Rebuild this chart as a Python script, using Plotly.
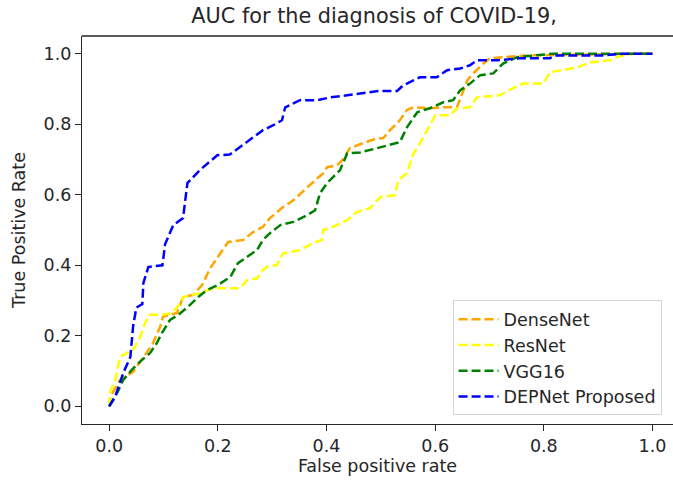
import plotly.graph_objects as go

# ---- data ----
densenet_fpr = [0.0, 0.002, 0.02, 0.044, 0.066, 0.081, 0.094, 0.099, 0.125, 0.136, 0.155, 0.171, 0.186, 0.2, 0.219,
                0.247, 0.265, 0.283, 0.296, 0.32, 0.339, 0.364, 0.383, 0.394, 0.401, 0.42, 0.429, 0.443, 0.467,
                0.493, 0.504, 0.517, 0.535, 0.548, 0.56, 0.59, 0.615, 0.64, 0.659, 0.67, 0.689, 0.701, 0.725,
                0.775, 0.85, 1.0]
densenet_tpr = [0.0, 0.027, 0.075, 0.098, 0.146, 0.18, 0.226, 0.254, 0.265, 0.31, 0.316, 0.344, 0.392, 0.424, 0.466,
                0.472, 0.494, 0.509, 0.534, 0.565, 0.584, 0.62, 0.646, 0.661, 0.678, 0.684, 0.698, 0.732, 0.746,
                0.76, 0.76, 0.783, 0.811, 0.84, 0.848, 0.845, 0.848, 0.848, 0.924, 0.944, 0.972, 0.987, 0.99,
                0.995, 0.997, 1.0]

resnet_fpr = [0.0, 0.002, 0.011, 0.02, 0.033, 0.044, 0.057, 0.066, 0.075, 0.099, 0.116, 0.131, 0.136, 0.153, 0.167,
              0.191, 0.241, 0.254, 0.272, 0.283, 0.29, 0.309, 0.32, 0.351, 0.375, 0.392, 0.394, 0.412, 0.438,
              0.456, 0.48, 0.499, 0.526, 0.532, 0.548, 0.56, 0.572, 0.587, 0.6, 0.627, 0.64, 0.664, 0.677,
              0.719, 0.743, 0.762, 0.799, 0.811, 0.83, 0.861, 0.885, 0.922, 0.935, 0.959, 1.0]
resnet_tpr = [0.0, 0.042, 0.075, 0.14, 0.152, 0.16, 0.197, 0.236, 0.26, 0.26, 0.265, 0.292, 0.31, 0.316, 0.321,
              0.335, 0.335, 0.358, 0.363, 0.386, 0.395, 0.401, 0.434, 0.443, 0.463, 0.472, 0.5, 0.509, 0.528,
              0.551, 0.562, 0.593, 0.599, 0.641, 0.661, 0.717, 0.746, 0.788, 0.825, 0.825, 0.845, 0.848, 0.876,
              0.882, 0.902, 0.915, 0.915, 0.947, 0.953, 0.961, 0.975, 0.981, 0.99, 1.0, 1.0]

vgg16_fpr = [0.0, 0.015, 0.026, 0.042, 0.057, 0.075, 0.088, 0.097, 0.112, 0.127, 0.145, 0.164, 0.18, 0.2, 0.223,
             0.237, 0.254, 0.272, 0.283, 0.296, 0.315, 0.339, 0.364, 0.379, 0.388, 0.401, 0.412, 0.425, 0.438,
             0.462, 0.493, 0.511, 0.535, 0.548, 0.567, 0.59, 0.615, 0.633, 0.646, 0.664, 0.683, 0.707, 0.725,
             0.751, 0.788, 0.817, 0.92, 1.0]
vgg16_tpr = [0.0, 0.039, 0.075, 0.104, 0.127, 0.151, 0.18, 0.208, 0.245, 0.259, 0.282, 0.31, 0.33, 0.344, 0.367,
             0.406, 0.424, 0.443, 0.472, 0.491, 0.514, 0.523, 0.542, 0.556, 0.604, 0.633, 0.65, 0.67, 0.717,
             0.72, 0.732, 0.74, 0.749, 0.791, 0.834, 0.845, 0.862, 0.868, 0.896, 0.915, 0.939, 0.944, 0.972,
             0.99, 0.995, 1.0, 1.0, 1.0]

depnet_fpr = [0.0, 0.011, 0.026, 0.039, 0.044, 0.05, 0.061, 0.063, 0.072, 0.098, 0.103, 0.118, 0.136, 0.14, 0.144,
              0.167, 0.199, 0.222, 0.241, 0.265, 0.283, 0.302, 0.318, 0.324, 0.351, 0.383, 0.407, 0.438, 0.475,
              0.495, 0.53, 0.541, 0.56, 0.572, 0.603, 0.622, 0.646, 0.664, 0.677, 0.714, 0.756, 0.811, 0.824,
              0.909, 0.946, 1.0]
depnet_tpr = [0.0, 0.027, 0.095, 0.14, 0.226, 0.28, 0.29, 0.35, 0.395, 0.4, 0.46, 0.514, 0.534, 0.585, 0.633,
              0.67, 0.712, 0.714, 0.735, 0.763, 0.783, 0.797, 0.811, 0.848, 0.868, 0.868, 0.876, 0.882, 0.89,
              0.894, 0.894, 0.91, 0.924, 0.933, 0.933, 0.953, 0.958, 0.967, 0.981, 0.981, 0.987, 0.987, 0.995,
              0.995, 1.0, 1.0]

series_names = ["DenseNet", "ResNet", "VGG16", "DEPNet Proposed"]
series_colors = ["#ffa500", "#ffff00", "#008000", "#0000ff"]
series_x = [densenet_fpr, resnet_fpr, vgg16_fpr, depnet_fpr]
series_y = [densenet_tpr, resnet_tpr, vgg16_tpr, depnet_tpr]

x_ticks = [0.0, 0.2, 0.4, 0.6, 0.8, 1.0]
y_ticks = [0.0, 0.2, 0.4, 0.6, 0.8, 1.0]

FONT = "DejaVu Sans"
FS = 17.5

fig = go.Figure()
for name, color, xs, ys in zip(series_names, series_colors, series_x, series_y):
    fig.add_trace(go.Scatter(
        x=xs, y=ys, mode="lines", name=name, legendgroup=name,
        line=dict(color=color, width=2.5, dash="9px,4px"),
    ))

fig.update_layout(
    width=673, height=483,
    margin=dict(l=81.7, r=0, t=35.6, b=58.6, pad=0, autoexpand=False),
    paper_bgcolor="white", plot_bgcolor="white",
    font=dict(family=FONT, size=FS, color="#262626"),
    title=dict(text="AUC for the diagnosis of COVID-19,", font=dict(family=FONT, size=20.8, color="#262626"),
               x=0.4943, xref="paper", xanchor="center", y=1 - 8 / 483, yref="container", yanchor="top",
               pad=dict(t=0, b=0, l=0, r=0)),
    showlegend=True,
    legend=dict(x=0.627, y=0.022, xanchor="left", yanchor="bottom",
                bgcolor="white", bordercolor="#d4d4d4", borderwidth=1,
                font=dict(family=FONT, size=FS, color="#262626"),
                tracegroupgap=0, itemwidth=40),
)
fig.update_xaxes(
    range=[-0.05, 1.0377], tickvals=x_ticks, tickformat=".1f", automargin=False,
    showgrid=False, zeroline=False, showline=True, linecolor="#262626", linewidth=1.3,
    ticks="outside", ticklen=6, tickwidth=1.3, tickcolor="#262626",
    title=dict(text="False positive rate", font=dict(family=FONT, size=FS, color="#262626"), standoff=4),
)
fig.update_yaxes(
    range=[-0.05, 1.05], tickvals=y_ticks, tickformat=".1f", automargin=False,
    showgrid=False, zeroline=False, showline=True, linecolor="#262626", linewidth=1.3,
    ticks="outside", ticklen=6, tickwidth=1.3, tickcolor="#262626",
    title=dict(text="True Positive Rate", font=dict(family=FONT, size=FS, color="#262626"), standoff=13),
)
fig.add_shape(type="line", xref="paper", yref="paper", x0=0, x1=1, y0=1, y1=1,
              line=dict(color="#262626", width=1.3))

# remove the browser's default 8px body margin so the figure fills the window exactly
fig.write_html("out.html", config={"displayModeBar": False},
               post_script="document.body.style.margin='0';")
